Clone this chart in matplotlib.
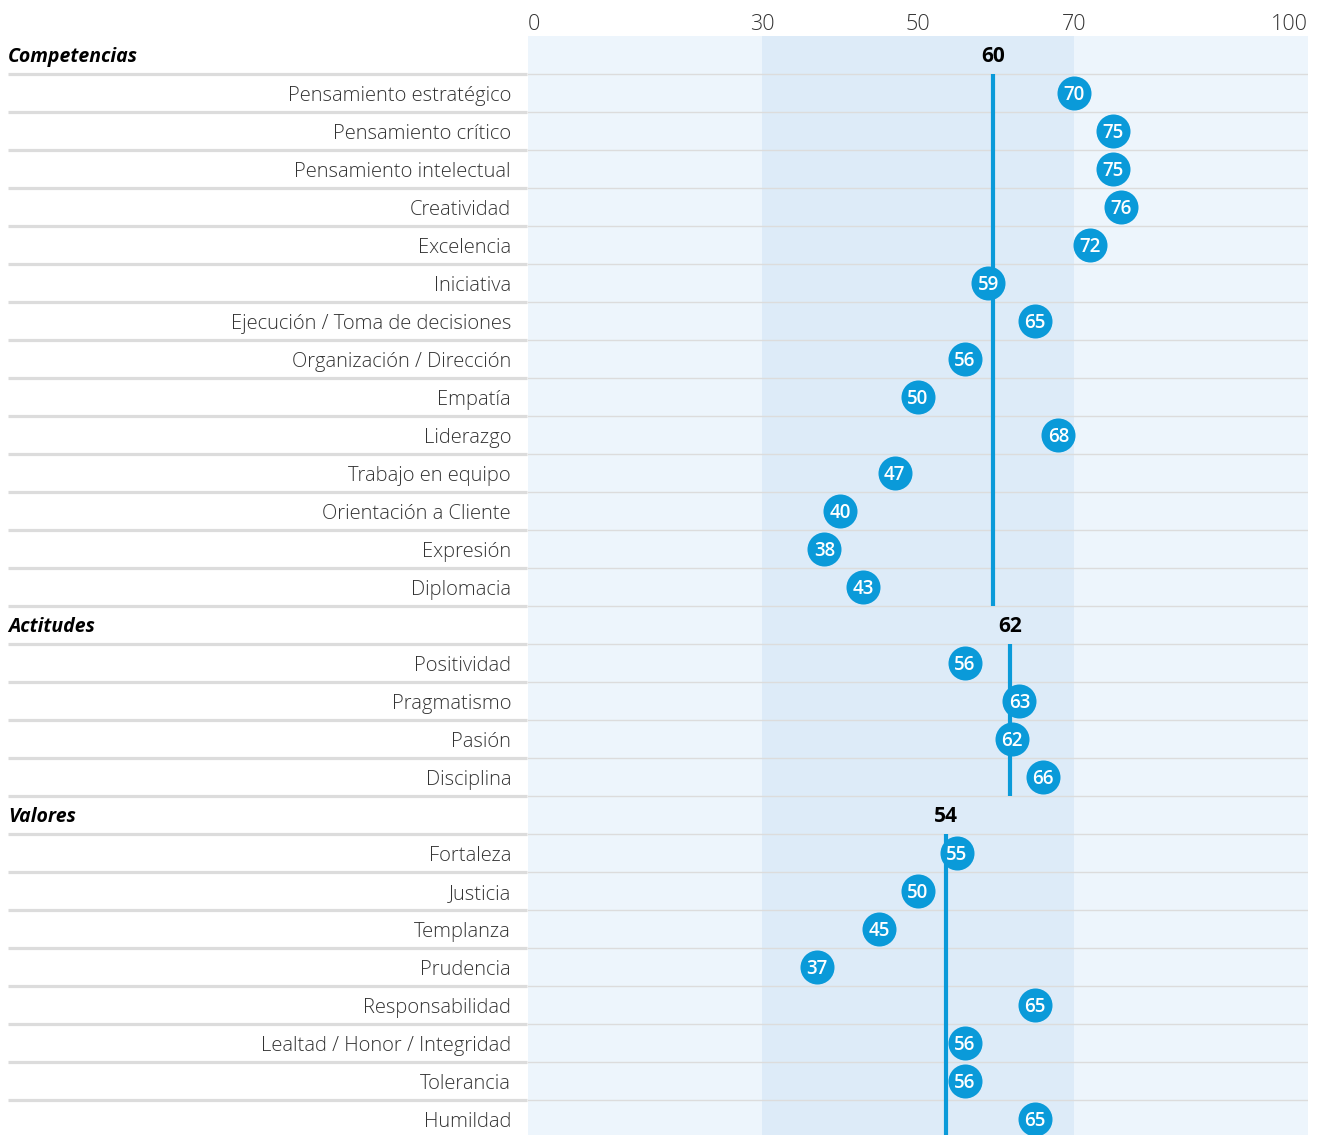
import matplotlib
matplotlib.use("Agg")
import matplotlib.pyplot as plt
from matplotlib.transforms import blended_transform_factory

# ---------------- data ----------------
group_names = ["Competencias", "Actitudes", "Valores"]

competencias_labels = ["Pensamiento estratégico", "Pensamiento crítico", "Pensamiento intelectual",
                       "Creatividad", "Excelencia", "Iniciativa", "Ejecución / Toma de decisiones",
                       "Organización / Dirección", "Empatía", "Liderazgo", "Trabajo en equipo",
                       "Orientación a Cliente", "Expresión", "Diplomacia"]
competencias_values = [70, 75, 75, 76, 72, 59, 65, 56, 50, 68, 47, 40, 38, 43]

actitudes_labels = ["Positividad", "Pragmatismo", "Pasión", "Disciplina"]
actitudes_values = [56, 63, 62, 66]

valores_labels = ["Fortaleza", "Justicia", "Templanza", "Prudencia", "Responsabilidad",
                  "Lealtad / Honor / Integridad", "Tolerancia", "Humildad"]
valores_values = [55, 50, 45, 37, 65, 56, 56, 65]

tick_values = [0, 30, 50, 70, 100]
band_range = (30, 70)

groups = [
    (group_names[0], competencias_labels, competencias_values),
    (group_names[1], actitudes_labels, actitudes_values),
    (group_names[2], valores_labels, valores_values),
]

# ---------------- style ----------------
FONT = ["Open Sans", "DejaVu Sans"]
plt.rcParams["font.family"] = FONT
BLUE = "#0a9ad9"
BG_LIGHT = "#edf5fc"
BG_BAND = "#ddebf8"
GRID = "#dcdcdc"
TEXT = "#333333"

W, H = 1323, 1135
fig = plt.figure(figsize=(W / 100, H / 100), dpi=100)
x0_px, x1_px = 528, 1308
top_px = 36
row_h = 38
ax = fig.add_axes([x0_px / W, 0, (x1_px - x0_px) / W, (H - top_px) / H])
n_vis = (H - top_px) / row_h
ax.set_xlim(0, 100)
ax.set_ylim(n_vis, 0)
ax.set_facecolor(BG_LIGHT)
for s in ax.spines.values():
    s.set_visible(False)
ax.axvspan(band_range[0], band_range[1], color=BG_BAND, zorder=0, lw=0)
ax.set_yticks([])
ax.set_xticks([])

# top tick labels (baseline ~30 px from top)
ttrans = blended_transform_factory(ax.transData, fig.transFigure)
for k, t in enumerate(tick_values):
    ha = "left" if k == 0 else ("right" if k == len(tick_values) - 1 else "center")
    ax.text(t, (H - 30) / H, str(t), transform=ttrans, ha=ha, va="baseline",
            fontsize=15.5, fontweight=300, color=TEXT, clip_on=False)

trans = blended_transform_factory(fig.transFigure, ax.transData)

total_rows = sum(1 + len(g[1]) for g in groups)
for b in range(1, total_rows):
    ax.axhline(b, color=GRID, lw=1, zorder=1)
    ax.plot([8 / W, 527 / W], [b, b], transform=trans, color=GRID, lw=2.3,
            clip_on=False, solid_capstyle="butt")

r = 0
for name, labels, values in groups:
    ax.text(8 / W, r + 0.5 + 0.19, name, transform=trans, ha="left", va="baseline",
            fontsize=14, fontweight="bold", fontstyle="italic", color="black")
    mean = sum(values) / len(values)
    ax.text(mean, r + 0.5 + 0.18, f"{round(mean)}", ha="center", va="baseline",
            fontsize=15, fontweight="bold", color="black", zorder=5)
    ax.vlines(mean, r + 1, r + 1 + len(labels), color=BLUE, lw=3, zorder=3)
    for i, (lab, v) in enumerate(zip(labels, values)):
        y = r + 1 + i + 0.5
        ax.text(511 / W, y + 0.22, lab, transform=trans, ha="right", va="baseline",
                fontsize=14.5, fontweight=300, color=TEXT)
        ax.scatter([v], [y], s=600, color=BLUE, zorder=4, lw=0)
        ax.text(v, y + 0.18, str(v), ha="center", va="baseline", fontsize=13.5,
                fontweight="semibold", color="white", zorder=6)
    r += 1 + len(labels)

fig.savefig("out.png", dpi=100)
